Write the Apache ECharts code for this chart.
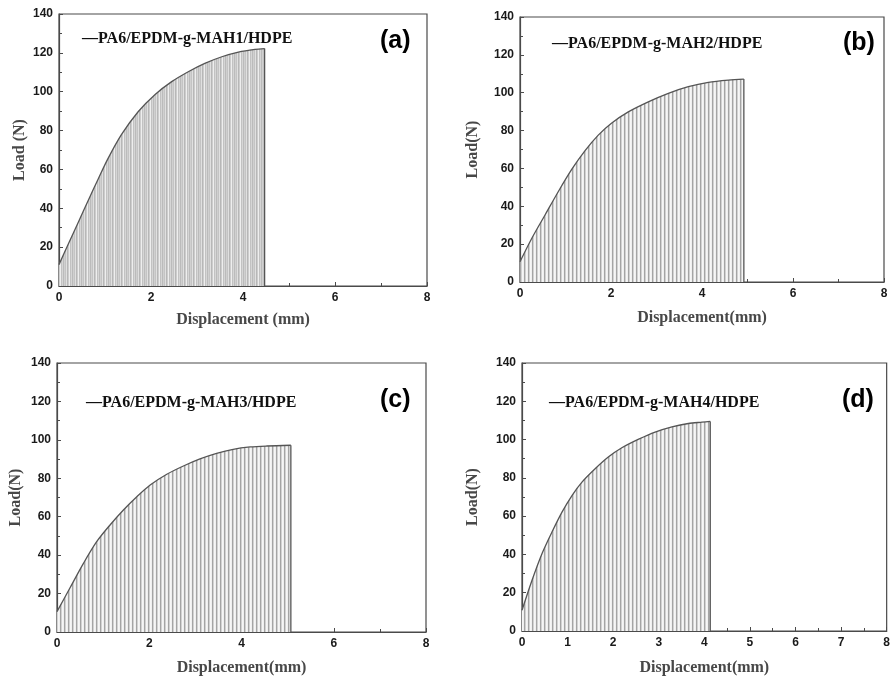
<!DOCTYPE html>
<html><head><meta charset="utf-8">
<script src="https://cdn.jsdelivr.net/npm/echarts@6/dist/echarts.min.js"></script>
<style>html,body{margin:0;padding:0;background:#fff}#c{width:893px;height:678px}</style>
</head><body><div id="c"></div>
<script>
// Displacement (mm) and Load (N)
const dispA = [0, 0.20, 0.42, 0.64, 0.86, 1.07, 1.36, 1.72, 2.09, 2.45, 2.81, 3.17, 3.54, 3.90, 4.26, 4.47];
const loadA = [11, 21.5, 32.8, 44.3, 55.5, 65.8, 78.0, 89.7, 98.6, 105.2, 110.3, 114.6, 118.0, 120.4, 121.8, 122.2];
const dispB = [0, 0.26, 0.55, 0.84, 1.14, 1.43, 1.72, 2.01, 2.38, 2.82, 3.26, 3.70, 4.14, 4.58, 4.92];
const loadB = [10.7, 23.1, 35.4, 47.7, 59.6, 69.4, 77.6, 83.9, 89.9, 95.2, 99.7, 103.2, 105.5, 106.7, 107.2];
const dispC = [0, 0.28, 0.57, 0.86, 1.15, 1.44, 1.73, 2.02, 2.38, 2.74, 3.10, 3.46, 3.82, 4.19, 4.55, 5.07];
const loadC = [10.6, 22.9, 35.6, 47.0, 55.7, 63.5, 70.4, 76.5, 82.1, 86.4, 90.1, 93.0, 95.1, 96.3, 96.8, 97.2];
const dispD = [0, 0.22, 0.44, 0.66, 0.88, 1.10, 1.32, 1.61, 1.90, 2.19, 2.56, 2.92, 3.29, 3.65, 3.95, 4.13];
const loadD = [10.8, 26.5, 40.5, 51.8, 62.2, 70.9, 77.9, 84.9, 91.0, 95.7, 100.2, 103.9, 106.6, 108.4, 109.1, 109.5];

const seriesNames = ['PA6/EPDM-g-MAH1/HDPE', 'PA6/EPDM-g-MAH2/HDPE', 'PA6/EPDM-g-MAH3/HDPE', 'PA6/EPDM-g-MAH4/HDPE'];
const panelLabels = ['(a)', '(b)', '(c)', '(d)'];
const xTitles = ['Displacement (mm)', 'Displacement(mm)', 'Displacement(mm)', 'Displacement(mm)'];
const yTitles = ['Load (N)', 'Load(N)', 'Load(N)', 'Load(N)'];
const xTickStep = [2, 2, 2, 1];
const yTickStep = 20;

const disps = [dispA, dispB, dispC, dispD];
const loads = [loadA, loadB, loadC, loadD];

function makePattern(cols) {
  const c = document.createElement('canvas');
  c.width = cols.length; c.height = 4;
  const ctx = c.getContext('2d');
  cols.forEach((col, i) => { ctx.fillStyle = col; ctx.fillRect(i, 0, 1, 4); });
  return c;
}
const patDense = makePattern(['#bbbbbb', '#d0d0d0', '#c4c4c4', '#e0e0e0', '#b7b7b7', '#cdcdcd', '#eeeeee', '#c2c2c2', '#d6d6d6']);
const patOpen = makePattern(['#a4a4a4', '#d2d2d2', '#f6f6f6', '#efefef']);
const patterns = [patDense, patOpen, patOpen, patOpen];

const grids = [
  { left: 59, top: 14, width: 368, height: 272 },
  { left: 520, top: 17, width: 364, height: 265 },
  { left: 57, top: 363, width: 369, height: 269 },
  { left: 522, top: 363, width: 365, height: 268 }
];
const legendPos = [[82, 31], [552, 36], [86, 395], [549, 395]];
const labelPos = [[380, 29], [843, 31], [380, 388], [842, 388]];
const xNameGap = [26, 28, 28, 29];
const yNameGap = [31, 39, 33, 41];

const axisCol = '#4a4a4a';
const tickLabel = { color: '#1a1a1a', fontSize: 12, fontWeight: 'bold', fontFamily: 'Liberation Sans, Arial, sans-serif' };
const titleFont = { color: '#484848', fontSize: 16, fontWeight: 'bold', fontFamily: 'Liberation Serif, Times New Roman, serif' };

const option = {
  animation: false,
  backgroundColor: '#fff',
  grid: grids.map(g => Object.assign({ show: true, borderColor: axisCol, borderWidth: 1.2, backgroundColor: 'transparent' }, g)),
  xAxis: grids.map((g, i) => ({
    type: 'value', gridIndex: i, min: 0, max: 8, interval: xTickStep[i],
    name: xTitles[i], nameLocation: 'middle', nameGap: xNameGap[i], nameTextStyle: titleFont,
    axisLine: { show: true, lineStyle: { color: axisCol, width: 1.2 } },
    axisTick: { show: true, inside: true, length: 4, lineStyle: { color: axisCol } },
    minorTick: { show: true, splitNumber: 2, length: 3, lineStyle: { color: axisCol } },
    axisLabel: Object.assign({ margin: 6 }, tickLabel),
    splitLine: { show: false }
  })),
  yAxis: grids.map((g, i) => ({
    type: 'value', gridIndex: i, min: 0, max: 140, interval: yTickStep,
    name: yTitles[i], nameLocation: 'middle', nameGap: yNameGap[i], nameRotate: 90, nameTextStyle: titleFont,
    axisLine: { show: true, lineStyle: { color: axisCol, width: 1.2 } },
    axisTick: { show: true, inside: true, length: 4, lineStyle: { color: axisCol } },
    minorTick: { show: true, splitNumber: 2, length: 3, lineStyle: { color: axisCol } },
    axisLabel: Object.assign({ margin: 6 }, tickLabel),
    splitLine: { show: false }
  })),
  title: [].concat(
    seriesNames.map((n, i) => ({
      text: '\u2014' + n, left: legendPos[i][0], top: legendPos[i][1], padding: 0,
      textStyle: { color: '#111', fontSize: 16, fontWeight: 'bold', fontFamily: 'Liberation Serif, Times New Roman, serif' }
    })),
    panelLabels.map((t, i) => ({
      text: t, left: labelPos[i][0], top: labelPos[i][1], padding: 0,
      textStyle: { color: '#000', fontSize: 25, fontWeight: 'bold', fontFamily: 'Liberation Sans, Arial, sans-serif' }
    }))
  ),
  series: [].concat(
    disps.map((d, i) => ({
      type: 'line', name: seriesNames[i], xAxisIndex: i, yAxisIndex: i,
      data: d.map((x, k) => [x, loads[i][k]]),
      symbol: 'none', smooth: 0.3,
      lineStyle: { color: '#555', width: 1.3 },
      areaStyle: { color: { image: patterns[i], repeat: 'repeat' }, opacity: 1 }
    })),
    disps.map((d, i) => ({
      type: 'line', xAxisIndex: i, yAxisIndex: i,
      data: [[d[d.length - 1], loads[i][loads[i].length - 1]], [d[d.length - 1], 0]],
      symbol: 'none', lineStyle: { color: '#555', width: 1.3 }
    }))
  )
};
echarts.init(document.getElementById('c')).setOption(option);
</script></body></html>
